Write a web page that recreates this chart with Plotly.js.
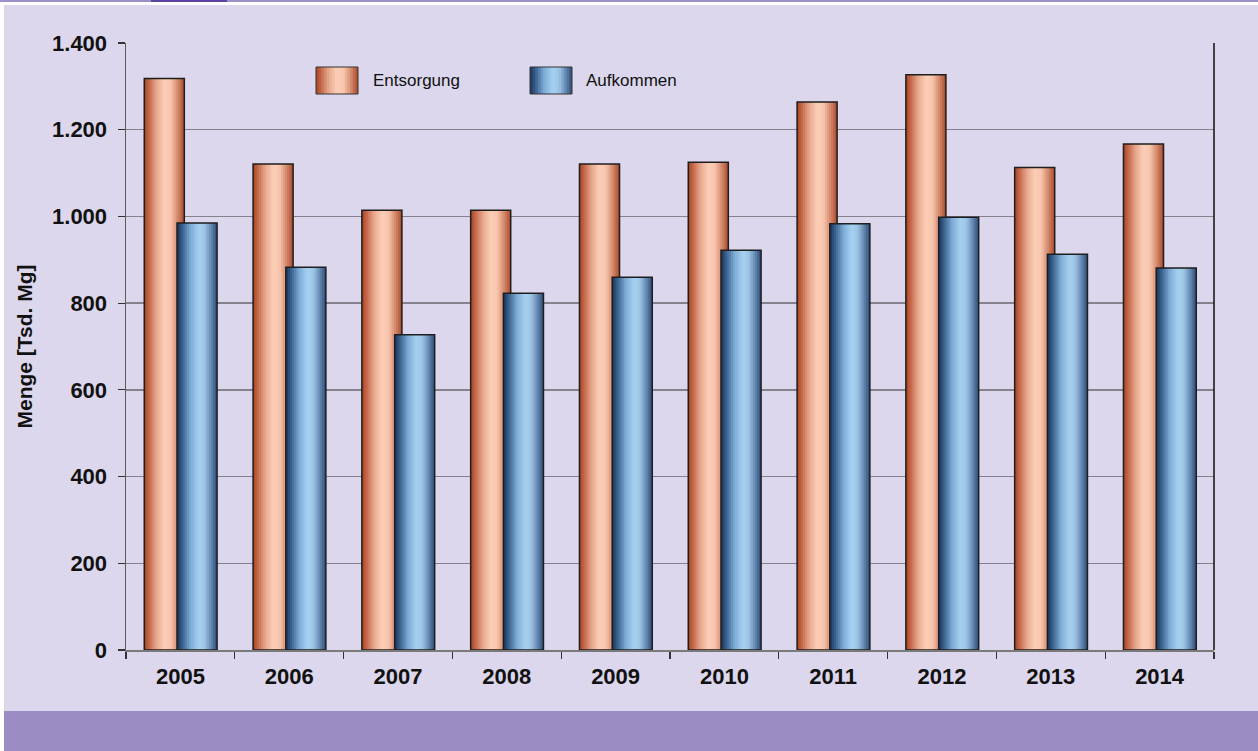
<!DOCTYPE html>
<html><head><meta charset="utf-8">
<script src="https://cdn.plot.ly/plotly-3.0.1.min.js"></script>
<style>html,body{margin:0;padding:0;background:#fff}#chart{width:1258px;height:751px}</style>
</head><body><div id="chart"></div>
<script>
// ---- data ----
const years = ['2005','2006','2007','2008','2009','2010','2011','2012','2013','2014'];
const entsorgung = [1318, 1121, 1014, 1014, 1121, 1125, 1264, 1327, 1113, 1167];
const aufkommen  = [985, 883, 727, 823, 860, 922, 983, 998, 913, 881];
const seriesNames = ['Entsorgung', 'Aufkommen'];
const yTitle = 'Menge [Tsd. Mg]';

// ---- geometry / style ----
const W = 1258, H = 751, M = {l:126, r:44, t:43, b:101};
const PW = W - M.l - M.r, PH = H - M.t - M.b;
const px = x => (x - M.l) / PW;
const py = y => (H - M.b - y) / PH;
const FONT = 'Liberation Sans, Arial, sans-serif';

function hex2rgb(h){ h=h.replace('#',''); return [0,2,4].map(i=>parseInt(h.substr(i,2),16)); }
function gradColor(stops, t){
  for (let i=0;i<stops.length-1;i++){
    const [t0,c0]=stops[i], [t1,c1]=stops[i+1];
    if (t>=t0 && t<=t1){
      const f=(t-t0)/(t1-t0), a=hex2rgb(c0), b=hex2rgb(c1);
      return 'rgb('+a.map((v,k)=>Math.round(v+(b[k]-v)*f)).join(',')+')';
    }
  }
  return stops[stops.length-1][1];
}
const orangeStops = [[0,'#a8431e'],[0.12,'#c4684a'],[0.3,'#e6a78c'],[0.5,'#fcceb7'],[0.66,'#f8c5ad'],[0.85,'#cf8468'],[1,'#aa4827']];
const blueStops   = [[0,'#1a335c'],[0.14,'#3c6390'],[0.34,'#7eacd7'],[0.55,'#a8d1f1'],[0.7,'#9bc2e3'],[0.88,'#5a7da7'],[1,'#2c4a75']];
const N = 20;
const BAR_W = 0.368;
const OFF_E = -0.332, OFF_A = -0.031;

function barTraces(values, stops, off){
  const arr = [];
  const sw = BAR_W / N;
  for (let i=0;i<N;i++){
    const o = off + i*sw;
    arr.push({type:'bar', x:years, y:values, offset:o, width:Math.min(sw*1.6, BAR_W - i*sw),
      marker:{color:gradColor(stops,(i+0.5)/N), line:{width:0}}, hoverinfo:'skip', showlegend:false});
  }
  arr.push({type:'bar', x:years, y:values, offset:off, width:BAR_W,
    marker:{color:'rgba(0,0,0,0)', line:{color:'#1e1e1e', width:1.5}}, showlegend:false});
  return arr;
}

const data = [].concat(barTraces(entsorgung, orangeStops, OFF_E), barTraces(aufkommen, blueStops, OFF_A));

// ---- background + legend drawn as shapes + annotations ----
const shapes = [
  {type:'rect', xref:'paper', yref:'paper', x0:px(0), x1:px(W), y0:py(H), y1:py(0), fillcolor:'#ffffff', line:{width:0}, layer:'below'},
  {type:'rect', xref:'paper', yref:'paper', x0:px(4), x1:px(W), y0:py(711), y1:py(5), fillcolor:'#dcd7ec', line:{width:0}, layer:'below'},
  {type:'rect', xref:'paper', yref:'paper', x0:px(4), x1:px(W), y0:py(H), y1:py(711), fillcolor:'#9b8dc3', line:{width:0}, layer:'below'},
  {type:'rect', xref:'paper', yref:'paper', x0:px(0), x1:px(W), y0:py(2), y1:py(0), fillcolor:'#9d90c6', line:{width:0}, layer:'below'},
  {type:'rect', xref:'paper', yref:'paper', x0:px(151), x1:px(227), y0:py(2), y1:py(0), fillcolor:'#5c44a3', line:{width:0}, layer:'below'},
  {type:'line', xref:'paper', yref:'paper', x0:1, x1:1, y0:0, y1:1, line:{color:'#111', width:1.5}}
];
const annotations = [];
const legendItems = [
  {name:seriesNames[0], stops:orangeStops, x0:316, x1:358, tx:371},
  {name:seriesNames[1], stops:blueStops,   x0:530, x1:572, tx:584}
];
legendItems.forEach(it=>{
  const n=16, w=(it.x1-it.x0)/n;
  for (let i=0;i<n;i++){
    shapes.push({type:'rect', xref:'paper', yref:'paper', x0:px(it.x0+i*w), x1:px(Math.min(it.x0+(i+1.5)*w, it.x1)),
      y0:py(94), y1:py(67), fillcolor:gradColor(it.stops,(i+0.5)/n), line:{width:0}, layer:'above'});
  }
  shapes.push({type:'rect', xref:'paper', yref:'paper', x0:px(it.x0), x1:px(it.x1), y0:py(94), y1:py(67),
    fillcolor:'rgba(0,0,0,0)', line:{color:'#333', width:1}, layer:'above'});
  annotations.push({xref:'paper', yref:'paper', x:px(it.tx), y:py(80.5), xanchor:'left', yanchor:'middle',
    text:it.name, showarrow:false, font:{family:FONT, size:17, color:'#111'}});
});

const layout = {
  width:W, height:H, margin:M,
  paper_bgcolor:'#ffffff', plot_bgcolor:'rgba(0,0,0,0)',
  barmode:'overlay', showlegend:false, separators:',.',
  font:{family:FONT, color:'#111'},
  xaxis:{type:'category', showgrid:false, showline:true, linecolor:'#7a7a7a', linewidth:2,
    ticks:'outside', tickson:'boundaries', ticklen:7, tickcolor:'#333', tickwidth:1.2, ticklabelstandoff:6,
    tickfont:{family:FONT, size:22, color:'#111', weight:'bold'}, fixedrange:true},
  yaxis:{range:[0,1400], dtick:200, tickformat:',d', showgrid:true, gridcolor:'#85828e', gridwidth:1.5,
    zeroline:false, showline:true, linecolor:'#5a5a5a', linewidth:1.5,
    ticks:'outside', ticklen:7, tickcolor:'#333', tickwidth:1.2, ticklabelstandoff:6,
    tickfont:{family:FONT, size:22, color:'#111', weight:'bold'},
    title:{text:yTitle, standoff:13, font:{family:FONT, size:21, color:'#111', weight:'bold'}}, fixedrange:true},
  shapes:shapes, annotations:annotations
};
Plotly.newPlot('chart', data, layout, {displayModeBar:false, staticPlot:true});
</script>
</body></html>
